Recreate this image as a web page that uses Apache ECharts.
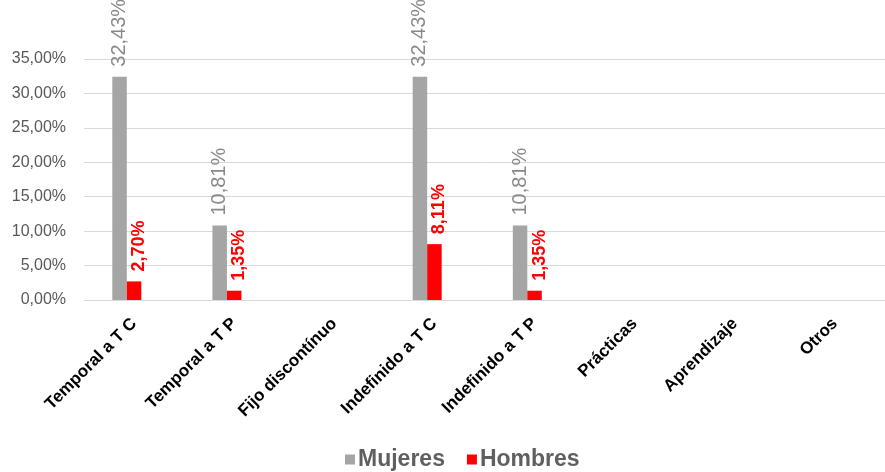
<!DOCTYPE html>
<html>
<head>
<meta charset="utf-8">
<script src="https://cdn.jsdelivr.net/npm/echarts@6/dist/echarts.min.js"></script>
<style>
  html, body { margin: 0; padding: 0; background: #fff; }
  #chart { width: 885px; height: 472px; }
</style>
</head>
<body>
<div id="chart"></div>
<script>
// Contract types and share of each sex (percent)
const categories = ['Temporal a T C', 'Temporal a T P', 'Fijo discontínuo', 'Indefinido a T C',
                    'Indefinido a T P', 'Prácticas', 'Aprendizaje', 'Otros'];
const mujeres = [32.43, 10.81, 0, 32.43, 10.81, 0, 0, 0];
const hombres = [2.70, 1.35, 0, 8.11, 1.35, 0, 0, 0];
const yTicks = { min: 0, max: 35, interval: 5 };

const fmt = v => v.toFixed(2).replace('.', ',') + '%';
const labelFmt = p => (p.value > 0 ? fmt(p.value) : '');

const chart = echarts.init(document.getElementById('chart'));
chart.setOption({
  animation: false,
  textStyle: { fontFamily: 'Liberation Sans, Arial, sans-serif' },
  grid: { left: 84, right: -13, top: 59, bottom: 172, containLabel: false },
  legend: {
    data: [
      { name: 'Mujeres', icon: 'rect' },
      { name: 'Hombres', icon: 'rect' }
    ],
    bottom: -4,
    left: 340,
    itemWidth: 10,
    itemHeight: 10,
    itemGap: 22,
    textStyle: { fontSize: 23, fontWeight: 'bold', color: '#5f5f5f', padding: [0, 0, 0, -2] }
  },
  xAxis: {
    type: 'category',
    data: categories,
    axisLine: { lineStyle: { color: '#d9d9d9', width: 1 } },
    axisTick: { show: false },
    axisLabel: {
      interval: 0,
      rotate: 45,
      margin: 21,
      fontSize: 17,
      fontWeight: 'bold',
      color: '#000'
    }
  },
  yAxis: {
    type: 'value',
    min: yTicks.min,
    max: yTicks.max,
    interval: yTicks.interval,
    axisLine: { show: false },
    axisTick: { show: false },
    splitLine: { lineStyle: { color: '#d9d9d9', width: 1 } },
    axisLabel: {
      formatter: v => v.toFixed(2).replace('.', ',') + '%',
      fontSize: 16,
      color: '#595959',
      margin: 18
    }
  },
  series: [
    {
      name: 'Mujeres',
      type: 'bar',
      data: mujeres,
      barWidth: 14.5,
      barGap: '0%',
      itemStyle: { color: '#a5a5a5' },
      label: {
        show: true,
        position: 'top',
        rotate: 90,
        align: 'left',
        verticalAlign: 'middle',
        distance: 10,
        fontSize: 20,
        color: '#8a8a8a',
        formatter: labelFmt
      }
    },
    {
      name: 'Hombres',
      type: 'bar',
      data: hombres,
      barWidth: 14.5,
      barGap: '0%',
      itemStyle: { color: '#ff0000' },
      label: {
        show: true,
        position: 'top',
        rotate: 90,
        align: 'left',
        verticalAlign: 'middle',
        distance: 10,
        offset: [0, 5],
        fontSize: 18,
        fontWeight: 'bold',
        color: '#ff0000',
        formatter: labelFmt
      }
    },
    {
      // empty third slot in each category group
      name: 'Total',
      type: 'bar',
      data: [],
      barWidth: 14.5,
      barGap: '0%'
    }
  ]
});
</script>
</body>
</html>
